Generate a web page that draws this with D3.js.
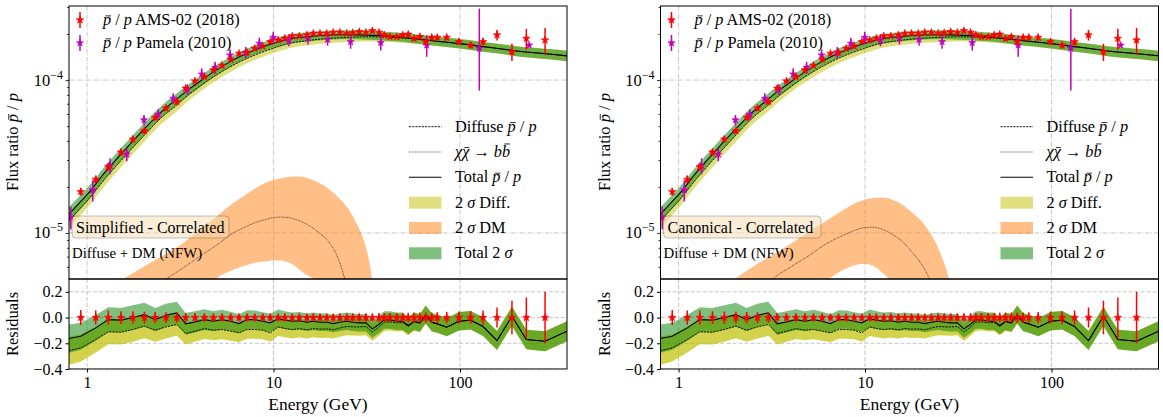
<!DOCTYPE html>
<html>
<head>
<meta charset="utf-8">
<script src="https://cdn.jsdelivr.net/npm/d3@7"></script>
<style>
  body { margin: 0; background: #fff; }
  text { font-family: "Liberation Serif", "DejaVu Serif", serif; fill: #000; }
</style>
</head>
<body>
<svg id="chart" width="1163" height="417"></svg>
<script>
// ---- data (flux ratios in units of 1e-5) ----
const amsE = [0.925,1.113,1.30,1.52,1.76,2.03,2.32,2.65,3.03,3.38,3.79,4.26,4.76,5.29,5.89,6.53,7.21,7.93,8.75,9.61,10.6,
  11.5,12.6,13.75,15.1,16.35,17.76,19.29,20.9,22.7,24.7,26.6,28.8,31.3,33.9,36.8,39.3,42.1,45.8,49.3,52.8,56.7,61.0,
  65.5,70.5,75.6,84.9,98.8,114,133,158,190,227,286];
const amsRatio = [1.86,2.24,2.71,3.37,4.10,4.66,5.68,6.54,7.21,8.83,9.85,10.52,11.62,12.47,13.65,14.94,15.17,16.10,16.67,17.80,18.25,
  18.74,19.4,19.4,19.7,20.2,20.2,20.2,20.5,20.5,20.2,20.4,20.7,20.5,21.0,20.5,19.7,19.2,19.2,19.7,19.9,18.7,19.2,
  17.8,19.0,19.0,19.0,17.8,16.9,17.8,19.7,15.3,18.7,18.25];
const amsErr = [0.058,0.055,0.055,0.05,0.048,0.046,0.044,0.042,0.04,0.036,0.034,0.032,0.031,0.03,0.03,0.03,0.03,0.03,0.03,0.03,0.03,
  0.03,0.03,0.03,0.03,0.03,0.03,0.03,0.03,0.03,0.03,0.031,0.031,0.032,0.032,0.033,0.033,0.034,0.035,0.036,0.037,0.038,0.039,
  0.04,0.04,0.042,0.044,0.047,0.05,0.055,0.078,0.13,0.156,0.20];

const pamE = [0.818,1.073,1.328,1.633,2.02,2.41,2.90,3.45,4.12,4.86,5.85,7.10,8.39,9.97,12.1,15.3,19.5,25.9,37.6,66.3,127,235];
const pamRatio = [1.27,1.91,2.75,3.27,5.48,5.97,7.59,8.68,10.94,12.1,14.57,15.07,17.37,19.0,18.25,18.74,18.45,17.8,17.55,16.9,16.1,16.9];
const pamErrUp = [0.17,0.16,0.12,0.10,0.08,0.08,0.08,0.08,0.09,0.09,0.09,0.09,0.09,0.09,0.09,0.09,0.09,0.10,0.11,0.16,0.82,0.03];
const pamErrDown = [0.17,0.16,0.12,0.10,0.08,0.08,0.08,0.08,0.09,0.09,0.09,0.09,0.09,0.09,0.09,0.09,0.09,0.10,0.11,0.16,0.47,0.03];

const modelE = [0.8,0.9,1.0,1.25,1.5,2,2.5,3,3.5,4,5,6,7,8,10,12,15,20,25,30,40,50,60,80,100,130,160,200,250,300,375];
const totalModel = [1.33,1.55,1.78,2.50,3.22,4.70,6.2,7.45,8.65,9.75,11.75,13.4,14.75,15.8,17.4,18.5,19.2,19.7,19.8,19.75,
  19.4,19.0,18.5,17.8,17.3,16.6,16.1,15.5,15.1,14.8,14.4];
const diffuseModel = [1.205,1.41,1.62,2.265,2.92,4.28,5.67,6.79,8.0,9.06,10.9,12.4,13.64,14.63,16.15,17.3,18.07,18.75,19.0,19.2,
  19.1,18.8,18.5,17.8,17.3,16.6,16.1,15.5,15.1,14.8,14.4];
const bandHalf = [0.11,0.105,0.10,0.097,0.095,0.093,0.09,0.088,0.085,0.082,0.077,0.075,0.073,0.071,0.07,0.069,0.068,0.068,0.068,0.068,
  0.068,0.068,0.069,0.07,0.072,0.073,0.074,0.075,0.076,0.077,0.078];

const dmE = [1.2,1.5,2.0,2.6,3.2,4.0,5.0,6.0,7.0,8.0,9.0,10,11,12,13,14,16,18,20,22,24,26,28,30,32,34,36];
const dmSimpHi  = [0.40,0.485,0.60,0.72,0.84,1.04,1.29,1.55,1.76,1.96,2.12,2.22,2.28,2.32,2.34,2.33,2.24,2.09,1.92,1.73,1.55,1.35,1.14,0.95,0.73,0.47,0.25];
const dmSimpMid = [0.20,0.28,0.38,0.49,0.58,0.70,0.84,0.99,1.09,1.17,1.22,1.26,1.27,1.26,1.23,1.19,1.09,0.98,0.86,0.70,0.51,0.33,0.18,0.08,0.03,0.01,0.005];
const dmSimpLo  = [0.05,0.07,0.10,0.15,0.25,0.40,0.51,0.57,0.61,0.64,0.65,0.66,0.66,0.64,0.61,0.565,0.51,0.47,0.40,0.30,0.20,0.12,0.06,0.03,0.01,0.005,0.002];
const dmCanHi   = [0.30,0.38,0.50,0.62,0.72,0.85,1.02,1.17,1.32,1.46,1.58,1.65,1.69,1.70,1.69,1.65,1.52,1.35,1.20,1.03,0.86,0.68,0.52,0.36,0.22,0.12,0.06];
const dmCanMid  = [0.15,0.20,0.28,0.38,0.50,0.60,0.71,0.83,0.92,0.99,1.05,1.085,1.09,1.07,1.03,0.98,0.87,0.74,0.63,0.51,0.38,0.26,0.15,0.08,0.04,0.02,0.01];
const dmCanLo   = [0.02,0.03,0.05,0.09,0.14,0.24,0.38,0.47,0.54,0.59,0.62,0.63,0.61,0.57,0.52,0.48,0.40,0.32,0.25,0.18,0.12,0.07,0.04,0.02,0.01,0.005,0.002];

// residuals, at 0.8 GeV, each AMS energy, and 375 GeV
const resEdgeLo = 0.8, resEdgeHi = 375;
const resTotal = [-0.163,-0.145,-0.08,-0.016,-0.02,0.0,0.023,-0.016,0.018,0.036,-0.049,-0.034,-0.016,-0.029,-0.016,-0.029,-0.047,-0.016,-0.016,-0.029,-0.041,-0.008,
  -0.02,-0.029,-0.025,-0.036,-0.029,-0.036,-0.036,-0.047,-0.036,-0.029,
  -0.036,-0.041,-0.041,-0.088,-0.052,-0.018,-0.018,-0.029,-0.029,-0.062,
  -0.029,-0.041,0.023,-0.036,-0.049,-0.075,-0.029,-0.02,-0.07,-0.179,
  0.01,-0.171,-0.184,-0.106];
const resDiffuse = [-0.257,-0.236,-0.171,-0.111,-0.114,-0.093,-0.067,-0.098,-0.073,-0.054,-0.124,-0.106,-0.086,-0.098,-0.093,-0.106,-0.119,-0.093,-0.093,-0.098,-0.119,-0.073,
  -0.085,-0.093,-0.087,-0.095,-0.086,-0.09,-0.088,-0.095,-0.081,-0.069,
  -0.072,-0.073,-0.069,-0.113,-0.073,-0.036,-0.033,-0.041,-0.038,-0.069,
  -0.034,-0.044,0.023,-0.036,-0.049,-0.075,-0.029,-0.02,-0.07,-0.179,
  0.01,-0.171,-0.184,-0.106];
const resHalf = [0.11,0.105,0.10,0.097,0.095,0.095,0.093,0.09,0.09,0.088,0.085,0.083,0.08,0.078,0.076,0.075,0.073,0.072,0.071,0.07,0.07,0.07,
  0.069,0.069,0.068,0.068,0.068,0.068,0.068,0.068,0.068,0.068,
  0.068,0.068,0.068,0.068,0.068,0.068,0.068,0.068,0.068,0.068,
  0.069,0.069,0.07,0.07,0.07,0.07,0.072,0.072,0.073,0.074,
  0.075,0.076,0.077,0.078];

const xTicks = [1, 10, 100];
const yTopMajor = [1e-5, 1e-4];
const yTopMinor = [6e-6,7e-6,8e-6,9e-6,2e-5,3e-5,4e-5,5e-5,6e-5,7e-5,8e-5,9e-5,2e-4,3e-4];
const yResTicks = [-0.4, -0.2, 0.0, 0.2];

const panels = [
  {x0: 69, tag: "Simplified - Correlated", dmHi: dmSimpHi, dmMid: dmSimpMid, dmLo: dmSimpLo},
  {x0: 660.5, tag: "Canonical - Correlated", dmHi: dmCanHi, dmMid: dmCanMid, dmLo: dmCanLo}
];

// ---- colours ----
const cYellow = "#bfbf00", cGreen = "#008000", cOrange = "#ff7f0e";
const cRed = "#ff0000", cMag = "#bf00bf";

const svg = d3.select("#chart");
const defs = svg.append("defs");
const topY0 = 6, topY1 = 279, resY1 = 369, plotW = 498;
const E5 = 1e-5;

// parts: [string, italic, index of barred char, bar height in em]
function rich(g, x, y, parts, size, anchor, rotate) {
  const wrap = g.append("g");
  if (rotate) wrap.attr("transform", `rotate(-90,${x},${y})`);
  const t = wrap.append("text").attr("x", x).attr("y", y)
    .attr("font-size", size).attr("text-anchor", anchor || "start");
  let idx = 0;
  const bars = [];
  parts.forEach(p => {
    const s = t.append("tspan").text(p[0]);
    if (p[1]) s.attr("font-style", "italic");
    if (p[2] !== undefined) bars.push([idx + p[2], p[3] || 0.56]);
    idx += p[0].length;
  });
  bars.forEach(([i, h]) => {
    const b = t.node().getExtentOfChar(i);
    wrap.append("line").attr("x1", b.x + b.width * 0.3).attr("x2", b.x + b.width * 1.0)
      .attr("y1", y - size * h).attr("y2", y - size * h)
      .attr("stroke", "#000").attr("stroke-width", size * 0.05);
  });
  return t;
}
const pbar = [["p", true, 0], [" / ", false], ["p", true]];

function star(g, cx, cy, color, size) {
  g.append("path").attr("d", d3.symbol(d3.symbolStar).size(size)())
    .attr("transform", `translate(${cx},${cy})`).attr("fill", color).attr("stroke", color).attr("stroke-width", 0.6);
}

panels.forEach((p, pi) => {
  const g = svg.append("g");
  const x = d3.scaleLog().domain([0.8, 375]).range([p.x0, p.x0 + plotW]);
  const yTop = d3.scaleLog().domain([5e-6, 3.05e-4]).range([topY1, topY0]);
  const yRes = d3.scaleLinear().domain([-0.4, 0.3]).range([resY1, topY1]);

  defs.append("clipPath").attr("id", "ct" + pi).append("rect")
    .attr("x", p.x0).attr("y", topY0).attr("width", plotW).attr("height", topY1 - topY0);
  defs.append("clipPath").attr("id", "cr" + pi).append("rect")
    .attr("x", p.x0).attr("y", topY1).attr("width", plotW).attr("height", resY1 - topY1);

  // ---------- top panel ----------
  const gt = g.append("g").attr("clip-path", `url(#ct${pi})`);
  const gridTop = "4.5,1.5,1,1.5";
  xTicks.forEach(t => gt.append("line").attr("x1", x(t)).attr("x2", x(t)).attr("y1", topY0).attr("y2", topY1)
    .attr("stroke", "#b8b8b8").attr("stroke-width", 0.8).attr("stroke-dasharray", gridTop));
  yTopMajor.forEach(t => gt.append("line").attr("x1", p.x0).attr("x2", p.x0 + plotW).attr("y1", yTop(t)).attr("y2", yTop(t))
    .attr("stroke", "#b8b8b8").attr("stroke-width", 0.8).attr("stroke-dasharray", gridTop));

  const model = modelE.map((e, i) => ({e, tot: totalModel[i] * E5, dif: diffuseModel[i] * E5, w: bandHalf[i]}));
  const area = (lo, hi) => d3.area().x(d => x(d.e)).y0(d => yTop(lo(d))).y1(d => yTop(hi(d))).curve(d3.curveMonotoneX);
  gt.append("path").datum(model).attr("d", area(d => d.dif * (1 - d.w), d => d.dif * (1 + d.w)))
    .attr("fill", cYellow).attr("fill-opacity", 0.5);
  gt.append("path").datum(model).attr("d", area(d => d.tot * (1 - d.w), d => d.tot * (1 + d.w)))
    .attr("fill", cGreen).attr("fill-opacity", 0.5);

  const dm = dmE.map((e, i) => ({e, hi: p.dmHi[i] * E5, mid: p.dmMid[i] * E5, lo: p.dmLo[i] * E5}));
  gt.append("path").datum(dm).attr("d", area(d => d.lo, d => d.hi))
    .attr("fill", cOrange).attr("fill-opacity", 0.5);

  const line = f => d3.line().x(d => x(d.e)).y(d => yTop(f(d))).curve(d3.curveMonotoneX);
  gt.append("path").datum(model).attr("d", line(d => d.dif)).attr("fill", "none")
    .attr("stroke", "#000").attr("stroke-width", 0.9).attr("stroke-dasharray", "2.2,1");
  gt.append("path").datum(dm).attr("d", line(d => d.mid)).attr("fill", "none")
    .attr("stroke", "#000").attr("stroke-width", 0.7).attr("stroke-dasharray", "0.8,0.8");
  gt.append("path").datum(model).attr("d", line(d => d.tot)).attr("fill", "none")
    .attr("stroke", "#000").attr("stroke-width", 1.1);

  // Pamela
  pamE.forEach((e, i) => {
    const v = pamRatio[i] * E5;
    gt.append("line").attr("x1", x(e)).attr("x2", x(e))
      .attr("y1", yTop(v * (1 + pamErrUp[i]))).attr("y2", yTop(v * (1 - pamErrDown[i])))
      .attr("stroke", cMag).attr("stroke-width", 1.5);
    star(gt, x(e), yTop(v), cMag, 16);
  });
  // AMS
  amsE.forEach((e, i) => {
    const v = amsRatio[i] * E5;
    gt.append("line").attr("x1", x(e)).attr("x2", x(e))
      .attr("y1", yTop(v * (1 + amsErr[i]))).attr("y2", yTop(v * (1 - amsErr[i])))
      .attr("stroke", cRed).attr("stroke-width", 1.5);
    star(gt, x(e), yTop(v), cRed, 18);
  });

  // top axis ticks
  const ay = g.append("g").attr("transform", `translate(${p.x0},0)`);
  ay.call(d3.axisLeft(yTop).tickValues(yTopMajor).tickFormat("").tickSize(3.5).tickSizeOuter(0));
  ay.append("g").call(d3.axisLeft(yTop).tickValues(yTopMinor).tickFormat("").tickSize(2).tickSizeOuter(0));
  ay.selectAll(".domain").remove();
  ay.selectAll("line").attr("stroke-width", 0.8);
  yTopMajor.forEach(t => {
    const tx = g.append("text").attr("x", p.x0 - 6).attr("y", yTop(t) + 5.5).attr("font-size", 16.5).attr("text-anchor", "end");
    tx.append("tspan").text("10");
    tx.append("tspan").text("\u2212" + Math.round(-Math.log10(t))).attr("font-size", 12).attr("dy", -7);
  });

  // text box and label
  g.append("rect").attr("x", p.x0 + 3).attr("y", 216).attr("width", pi === 0 ? 157 : 157.5).attr("height", 22)
    .attr("rx", 4).attr("fill", "#f5deb3").attr("fill-opacity", 0.5)
    .attr("stroke", "#000").attr("stroke-opacity", 0.3).attr("stroke-width", 0.8);
  g.append("text").attr("x", p.x0 + 7).attr("y", 232.5).attr("font-size", 16).text(p.tag);
  g.append("text").attr("x", p.x0 + 3).attr("y", 257.5).attr("font-size", 14.8).text("Diffuse + DM (NFW)");

  // upper-left legend
  const lgA = [{t: " AMS-02 (2018)", c: cRed, y: 20, s: 18}, {t: " Pamela (2010)", c: cMag, y: 43, s: 16}];
  lgA.forEach(l => {
    g.append("line").attr("x1", p.x0 + 11).attr("x2", p.x0 + 11).attr("y1", l.y - 8).attr("y2", l.y + 8)
      .attr("stroke", l.c).attr("stroke-width", 1.5);
    star(g, p.x0 + 11, l.y, l.c, l.s);
    rich(g, p.x0 + 34, l.y + 5, pbar.concat([[l.t, false]]), 16.3);
  });

  // right legend
  const rowY = [126.7, 152, 177.3, 202.7, 228, 253.3];
  const lx0 = p.x0 + 340, lx1 = p.x0 + 372.5, tx = p.x0 + 386;
  g.append("line").attr("x1", lx0).attr("x2", lx1).attr("y1", rowY[0]).attr("y2", rowY[0])
    .attr("stroke", "#000").attr("stroke-width", 0.9).attr("stroke-dasharray", "2.2,1");
  g.append("line").attr("x1", lx0).attr("x2", lx1).attr("y1", rowY[1]).attr("y2", rowY[1])
    .attr("stroke", "#000").attr("stroke-width", 0.7).attr("stroke-dasharray", "0.8,0.8");
  g.append("line").attr("x1", lx0).attr("x2", lx1).attr("y1", rowY[2]).attr("y2", rowY[2])
    .attr("stroke", "#000").attr("stroke-width", 1.1);
  [[cYellow, rowY[3]], [cOrange, rowY[4]], [cGreen, rowY[5]]].forEach(r => {
    g.append("rect").attr("x", lx0).attr("y", r[1] - 6).attr("width", lx1 - lx0).attr("height", 12)
      .attr("fill", r[0]).attr("fill-opacity", 0.5);
  });
  const ls = 16.3;
  rich(g, tx, rowY[0] + 5, [["Diffuse ", false]].concat(pbar), ls);
  rich(g, tx, rowY[1] + 5, [["\u03c7\u03c7", true, 1, 0.58], [" \u2192 ", false], ["bb", true, 1, 0.8]], ls);
  rich(g, tx, rowY[2] + 5, [["Total ", false]].concat(pbar), ls);
  rich(g, tx, rowY[3] + 5, [["2 ", false], ["\u03c3", true], [" Diff.", false]], ls);
  rich(g, tx, rowY[4] + 5, [["2 ", false], ["\u03c3", true], [" DM", false]], ls);
  rich(g, tx, rowY[5] + 5, [["Total 2 ", false], ["\u03c3", true]], ls);

  // ---------- residual panel ----------
  const gr = g.append("g").attr("clip-path", `url(#cr${pi})`);
  const gridRes = "4,2";
  xTicks.forEach(t => gr.append("line").attr("x1", x(t)).attr("x2", x(t)).attr("y1", topY1).attr("y2", resY1)
    .attr("stroke", "#b8b8b8").attr("stroke-width", 0.8).attr("stroke-dasharray", gridRes));
  yResTicks.forEach(t => gr.append("line").attr("x1", p.x0).attr("x2", p.x0 + plotW).attr("y1", yRes(t)).attr("y2", yRes(t))
    .attr("stroke", "#b8b8b8").attr("stroke-width", 0.8).attr("stroke-dasharray", gridRes));

  const resEs = [resEdgeLo].concat(amsE, [resEdgeHi]);
  const res = resEs.map((e, i) => ({e, tot: resTotal[i], dif: resDiffuse[i], w: resHalf[i]}));
  const rArea = (lo, hi) => d3.area().x(d => x(d.e)).y0(d => yRes(lo(d))).y1(d => yRes(hi(d)));
  gr.append("path").datum(res).attr("d", rArea(d => d.dif - d.w, d => d.dif + d.w))
    .attr("fill", cYellow).attr("fill-opacity", 0.7);
  gr.append("path").datum(res).attr("d", rArea(d => d.tot - d.w, d => d.tot + d.w))
    .attr("fill", cGreen).attr("fill-opacity", 0.5);
  const rLine = f => d3.line().x(d => x(d.e)).y(d => yRes(f(d)));
  gr.append("path").datum(res).attr("d", rLine(d => d.dif)).attr("fill", "none")
    .attr("stroke", "#000").attr("stroke-width", 0.9).attr("stroke-dasharray", "2.2,1");
  gr.append("path").datum(res).attr("d", rLine(d => d.tot)).attr("fill", "none")
    .attr("stroke", "#000").attr("stroke-width", 1.1);
  amsE.forEach((e, i) => {
    gr.append("line").attr("x1", x(e)).attr("x2", x(e)).attr("y1", yRes(amsErr[i])).attr("y2", yRes(-amsErr[i]))
      .attr("stroke", cRed).attr("stroke-width", 1.5);
    star(gr, x(e), yRes(0), cRed, 18);
  });

  const ax = g.append("g").attr("transform", `translate(0,${resY1})`)
    .call(d3.axisBottom(x).tickValues(xTicks).tickFormat(d3.format("d")).tickSize(3.5).tickSizeOuter(0).tickPadding(4));
  ax.select(".domain").remove();
  ax.selectAll("text").attr("font-size", 16).attr("font-family", "Liberation Serif");
  const ar = g.append("g").attr("transform", `translate(${p.x0},0)`)
    .call(d3.axisLeft(yRes).tickValues(yResTicks).tickFormat(d3.format(".1f")).tickSize(3.5).tickSizeOuter(0).tickPadding(3));
  ar.select(".domain").remove();
  ar.selectAll("text").attr("font-size", 16).attr("font-family", "Liberation Serif");

  // frames
  g.append("rect").attr("x", p.x0).attr("y", topY0).attr("width", plotW).attr("height", topY1 - topY0)
    .attr("fill", "none").attr("stroke", "#000").attr("stroke-width", 1);
  g.append("rect").attr("x", p.x0).attr("y", topY1).attr("width", plotW).attr("height", resY1 - topY1)
    .attr("fill", "none").attr("stroke", "#000").attr("stroke-width", 1);

  // axis labels
  const ylx = p.x0 - 51;
  rich(g, ylx, 142, [["Flux ratio ", false]].concat(pbar), 16.5, "middle", true);
  rich(g, ylx, 324, [["Residuals", false]], 16.5, "middle", true);
  g.append("text").attr("x", p.x0 + 249).attr("y", 410).attr("font-size", 17.5).attr("text-anchor", "middle").text("Energy (GeV)");
});
</script>
</body>
</html>
